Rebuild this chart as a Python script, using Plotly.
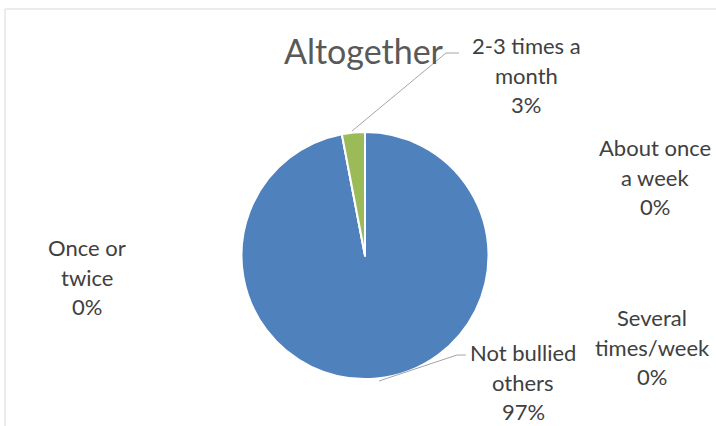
import plotly.graph_objects as go

# ---- data ----
categories = ["Not bullied others", "Once or twice", "2-3 times a month",
              "About once a week", "Several times/week"]
values = [97, 0, 3, 0, 0]
pct_labels = ["97%", "0%", "3%", "0%", "0%"]
colors = ["#4F81BD", "#C0504D", "#9BBB59", "#8064A2", "#4BACC6"]
title_text = "Altogether"

W, H = 716, 426


def px(x):
    return x / W


def py(y):
    return 1 - y / H


# pie geometry (pixels)
cx, cy, r = 365, 255.5, 123.5

fig = go.Figure(go.Pie(
    labels=categories,
    values=values,
    sort=False,
    direction="clockwise",
    rotation=0,
    marker=dict(colors=colors, line=dict(color="white", width=2)),
    textinfo="none",
    showlegend=False,
    domain=dict(x=[px(cx - r), px(cx + r)], y=[py(cy + r), py(cy - r)]),
))

# label layout (pixel centres of each text block), in category order
label_lines = [
    ["Not bullied", "others"],
    ["Once or", "twice"],
    ["2-3 times a", "month"],
    ["About once", "a week"],
    ["Several", "times/week"],
]
label_pos = [(523, 382), (87, 277), (526, 75), (655, 177), (652, 347)]

annotations = []
font_lbl = dict(family="Lato, 'Open Sans', sans-serif", size=22, color="#404040")
for lines, pct, (x, y) in zip(label_lines, pct_labels, label_pos):
    txt = lines + [pct]
    n = len(txt)
    for i, t in enumerate(txt):
        yy = y + (i - (n - 1) / 2) * 29.5
        annotations.append(dict(
            x=px(x), y=py(yy), xref="paper", yref="paper",
            text=t, showarrow=False, font=font_lbl,
            xanchor="center", yanchor="middle",
        ))

annotations.append(dict(
    x=px(364), y=py(51), xref="paper", yref="paper",
    text=title_text, showarrow=False,
    font=dict(family="Lato, 'Open Sans', sans-serif", size=34, color="#595959"),
    xanchor="center", yanchor="middle",
))


def path(points):
    return "M " + " L ".join(f"{px(x)},{py(y)}" for x, y in points)


shapes = [
    # chart frame
    dict(type="rect", xref="paper", yref="paper",
         x0=px(5), y0=py(440), x1=px(730), y1=py(9),
         line=dict(color="#D9D9D9", width=1), fillcolor="rgba(0,0,0,0)"),
    # leader lines
    dict(type="path", xref="paper", yref="paper",
         path=path([(459, 53), (446, 53), (352, 131)]),
         line=dict(color="#A6A6A6", width=1)),
    dict(type="path", xref="paper", yref="paper",
         path=path([(466, 355), (457, 355), (379, 381)]),
         line=dict(color="#A6A6A6", width=1)),
]

fig.update_layout(
    width=W, height=H,
    margin=dict(l=0, r=0, t=0, b=0),
    paper_bgcolor="white",
    plot_bgcolor="white",
    annotations=annotations,
    shapes=shapes,
)

fig.write_html(
    "out.html",
    config={"displayModeBar": False},
    post_script="document.body.style.margin='0';document.body.style.overflow='hidden';",
)
